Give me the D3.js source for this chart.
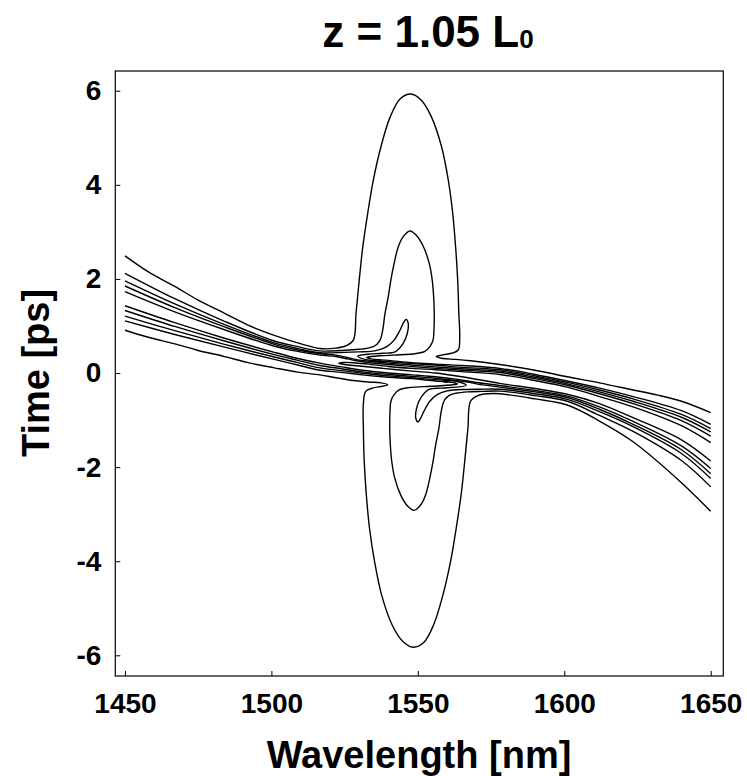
<!DOCTYPE html>
<html>
<head>
<meta charset="utf-8">
<script src="https://cdn.jsdelivr.net/npm/d3@7"></script>
<style>
  body { margin: 0; background: #fff; }
  svg text { font-family: "Liberation Sans", Arial, sans-serif; font-weight: bold; fill: #000; }
</style>
</head>
<body>
<svg id="chart" width="747" height="776"></svg>
<script>
// tick values
const xTicks = [1450, 1500, 1550, 1600, 1650]
const yTicks = [-6, -4, -2, 0, 2, 4, 6]

// contour lines, [wavelength nm, time ps]
// upper side of the band (outermost first)
const contourU1 = [
  [1450, 2.49], [1458, 2.15], [1467, 1.84], [1475, 1.55], [1484, 1.27], [1492, 1.02], [1501, 0.80],
  [1509, 0.64], [1516.6, 0.52], [1522, 0.53], [1525.5, 0.58], [1528.0, 0.70], [1528.9, 1.27],
  [1530.0, 1.98], [1531.2, 2.68], [1532.9, 3.40], [1534.8, 4.10], [1537.4, 4.81], [1540.6, 5.45],
  [1544.0, 5.83], [1547.6, 5.93], [1551.2, 5.80], [1554.6, 5.45], [1558.1, 4.81], [1560.4, 4.10],
  [1561.9, 3.40], [1562.9, 2.68], [1563.6, 1.98], [1564.0, 1.27], [1564.3, 0.75], [1563.8, 0.49],
  [1561.5, 0.42], [1558, 0.38], [1556.3, 0.35], [1558.5, 0.31], [1563, 0.29], [1568, 0.26],
  [1578, 0.18], [1590, 0.06], [1601, -0.08], [1612, -0.21], [1623.5, -0.36], [1632, -0.47],
  [1640, -0.60], [1650, -0.84]
]
const contourU2 = [
  [1450, 2.12], [1467, 1.58], [1484, 1.10], [1501, 0.68], [1509, 0.56], [1516.6, 0.47], [1524, 0.48],
  [1529, 0.50], [1533, 0.53], [1535.4, 0.58], [1537.1, 0.70], [1538.0, 0.91], [1538.8, 1.27],
  [1539.9, 1.62], [1540.8, 1.98], [1541.9, 2.33], [1543.3, 2.68], [1545.0, 2.90], [1547.3, 3.02],
  [1549.6, 2.92], [1551.8, 2.70], [1553.9, 2.33], [1554.9, 1.98], [1555.4, 1.62], [1555.6, 1.27],
  [1555.5, 0.91], [1555.2, 0.70], [1554.1, 0.56], [1552.4, 0.46], [1549, 0.41], [1544, 0.39],
  [1538, 0.37], [1534, 0.35], [1532.5, 0.33], [1534, 0.30], [1540, 0.27], [1548, 0.22], [1556, 0.19],
  [1565, 0.16], [1578, 0.10], [1590, -0.03], [1601, -0.17], [1612, -0.32], [1623.5, -0.50],
  [1640, -0.80], [1650, -1.09]
]
const contourU3 = [
  [1450, 1.96], [1467, 1.47], [1484, 1.03], [1501, 0.64], [1509, 0.52], [1516.6, 0.43], [1525, 0.44],
  [1530, 0.45], [1534, 0.46], [1536, 0.48], [1539.4, 0.56], [1541.9, 0.70], [1543.9, 0.91],
  [1545.2, 1.08], [1546.0, 1.14], [1546.7, 1.06], [1546.4, 0.84], [1545.0, 0.63], [1542.2, 0.45],
  [1538, 0.42], [1533, 0.40], [1529.5, 0.36], [1532, 0.29], [1540, 0.24], [1548, 0.20], [1556, 0.17],
  [1565, 0.12], [1578, 0.07], [1590, -0.06], [1601, -0.20], [1612, -0.36], [1623.5, -0.55],
  [1640, -0.88], [1650, -1.18]
]
const contourU4 = [
  [1450, 1.85], [1467, 1.39], [1484, 0.98], [1501, 0.61], [1509, 0.49], [1516.6, 0.41], [1522, 0.38],
  [1526, 0.33], [1529, 0.285], [1533, 0.255], [1540, 0.21], [1548, 0.17], [1556, 0.13], [1565, 0.09],
  [1578, 0.04], [1590, -0.09], [1601, -0.23], [1612, -0.40], [1623.5, -0.60], [1640, -0.94],
  [1650, -1.25]
]
const contourU5 = [
  [1450, 1.73], [1467, 1.30], [1484, 0.92], [1501, 0.57], [1509, 0.46], [1516.6, 0.38], [1522, 0.35],
  [1526, 0.30], [1529, 0.26], [1533, 0.225], [1540, 0.18], [1548, 0.14], [1556, 0.10], [1565, 0.06],
  [1578, 0.01], [1590, -0.12], [1601, -0.26], [1612, -0.44], [1623.5, -0.65], [1640, -1.01],
  [1650, -1.34]
]
// innermost level: enters and leaves on the right edge
const contourRidge = [
  [1650, -1.48], [1640, -1.12], [1623.5, -0.72], [1612, -0.50], [1601, -0.30], [1590, -0.16],
  [1578, -0.03], [1565, 0.03], [1556, 0.07], [1548, 0.10], [1540, 0.14], [1533, 0.19], [1528, 0.22],
  [1524.5, 0.225], [1523, 0.21], [1525, 0.18], [1530, 0.15], [1538, 0.10], [1548, 0.04], [1556, 0.0],
  [1565, -0.08], [1578, -0.22], [1590, -0.33], [1601, -0.45], [1612, -0.65], [1623.5, -0.95],
  [1640, -1.42], [1650, -1.87]
]
// lower side of the band
const contourL5 = [
  [1450, 1.43], [1467, 1.07], [1484, 0.74], [1501, 0.44], [1509, 0.31], [1516.6, 0.21], [1524, 0.13],
  [1531, 0.06], [1540, 0.00], [1548, -0.04], [1556, -0.08], [1563, -0.13], [1567, -0.17],
  [1570, -0.20], [1578, -0.265], [1590, -0.37], [1601, -0.49], [1612, -0.72], [1623.5, -1.03],
  [1640, -1.55], [1650, -2.03]
]
const contourL4 = [
  [1450, 1.33], [1467, 0.99], [1484, 0.68], [1501, 0.39], [1509, 0.27], [1516.6, 0.16], [1524, 0.09],
  [1531, 0.025], [1540, -0.03], [1548, -0.07], [1556, -0.11], [1563, -0.16], [1567, -0.19],
  [1570, -0.23], [1578, -0.30], [1590, -0.40], [1601, -0.52], [1612, -0.77], [1623.5, -1.09],
  [1640, -1.63], [1650, -2.14]
]
const contourL3 = [
  [1450, 1.21], [1467, 0.90], [1484, 0.61], [1501, 0.34], [1509, 0.22], [1516.6, 0.11], [1524, 0.05],
  [1531, -0.005], [1540, -0.06], [1548, -0.10], [1556, -0.14], [1564, -0.19], [1566.5, -0.26],
  [1563, -0.30], [1558, -0.32], [1553.8, -0.35], [1551.0, -0.53], [1549.6, -0.74], [1549.3, -0.96],
  [1550.0, -1.04], [1550.8, -0.98], [1552.1, -0.81], [1554.1, -0.60], [1556.6, -0.46], [1560, -0.38],
  [1562, -0.36], [1566, -0.35], [1571, -0.345], [1578, -0.345], [1590, -0.44], [1601, -0.56],
  [1612, -0.82], [1623.5, -1.14], [1640, -1.71], [1650, -2.24]
]
const contourL2 = [
  [1450, 1.11], [1467, 0.82], [1484, 0.55], [1501, 0.29], [1509, 0.17], [1516.6, 0.06], [1524, 0.015],
  [1531, -0.04], [1540, -0.09], [1548, -0.12], [1556, -0.17], [1562, -0.20], [1563.5, -0.23],
  [1562, -0.25], [1558, -0.27], [1552, -0.29], [1547, -0.31], [1543.6, -0.36], [1541.9, -0.46],
  [1540.8, -0.60], [1540.5, -0.81], [1540.4, -1.17], [1540.6, -1.52], [1541.1, -1.88], [1542.1, -2.23],
  [1544.2, -2.60], [1546.4, -2.82], [1548.7, -2.92], [1551.0, -2.80], [1552.7, -2.58], [1554.1, -2.23],
  [1555.2, -1.88], [1556.1, -1.52], [1557.2, -1.17], [1558.0, -0.81], [1558.9, -0.60], [1560.6, -0.48],
  [1563, -0.43], [1567, -0.40], [1572, -0.39], [1578, -0.385], [1590, -0.48], [1601, -0.60],
  [1612, -0.90], [1623.5, -1.24], [1640, -1.86], [1650, -2.42]
]
const contourL1 = [
  [1450, 0.91], [1458, 0.76], [1467, 0.62], [1475, 0.48], [1484, 0.35], [1492, 0.22], [1501, 0.11],
  [1509, 0.02], [1516.6, -0.04], [1522, -0.10], [1528, -0.16], [1533, -0.19], [1537.5, -0.21],
  [1539.7, -0.25], [1538, -0.28], [1534.5, -0.32], [1532.2, -0.39], [1531.4, -0.65], [1531.4, -1.17],
  [1531.7, -1.88], [1532.4, -2.58], [1533.5, -3.30], [1535.2, -4.00], [1537.6, -4.71], [1541.2, -5.35],
  [1544.8, -5.70], [1548.4, -5.83], [1552.0, -5.73], [1555.4, -5.35], [1558.6, -4.71], [1561.2, -4.00],
  [1563.1, -3.30], [1564.8, -2.58], [1566.0, -1.88], [1567.1, -1.17], [1568.0, -0.60], [1570.5, -0.48],
  [1574, -0.44], [1578, -0.44], [1590, -0.55], [1601, -0.68], [1612, -1.02], [1623.5, -1.46],
  [1640, -2.33], [1650, -2.94]
]
// two tiny closed contours near the centre
const dotUpper = [[1535.5, 0.265], [1536.4, 0.29], [1537.3, 0.265], [1536.4, 0.245]]
const dotLower = [[1558.7, -0.175], [1559.6, -0.15], [1560.5, -0.175], [1559.6, -0.195]]

const openContours = [contourU1, contourU2, contourU3, contourU4, contourU5, contourRidge,
  contourL5, contourL4, contourL3, contourL2, contourL1]
const closedContours = [dotUpper, dotLower]

let width = 747
let height = 776
let plot = { left: 115.3, right: 723.3, top: 71, bottom: 676 }

let svg = d3.select('#chart')

let xScale = d3.scaleLinear()
  .domain([1446.7, 1654.3])
  .range([plot.left, plot.right])
let yScale = d3.scaleLinear()
  .domain([-6.44, 6.42])
  .range([plot.bottom, plot.top])

svg.append('defs').append('clipPath')
  .attr('id', 'plot-clip')
  .append('rect')
  .attr('x', plot.left)
  .attr('y', plot.top)
  .attr('width', plot.right - plot.left)
  .attr('height', plot.bottom - plot.top)

let line = d3.line()
  .x(d => xScale(d[0]))
  .y(d => yScale(d[1]))
  .curve(d3.curveCatmullRom.alpha(0.5))

let loop = d3.line()
  .x(d => xScale(d[0]))
  .y(d => yScale(d[1]))
  .curve(d3.curveCatmullRomClosed.alpha(0.5))

let lines = svg.append('g').attr('clip-path', 'url(#plot-clip)')

lines.selectAll('path.open')
  .data(openContours)
  .enter()
  .append('path')
  .attr('class', 'open')
  .attr('d', line)
  .attr('fill', 'none')
  .attr('stroke', '#000')
  .attr('stroke-width', 1.4)

lines.selectAll('path.closed')
  .data(closedContours)
  .enter()
  .append('path')
  .attr('class', 'closed')
  .attr('d', loop)
  .attr('fill', 'none')
  .attr('stroke', '#000')
  .attr('stroke-width', 1.4)

// frame
svg.append('rect')
  .attr('x', plot.left)
  .attr('y', plot.top)
  .attr('width', plot.right - plot.left)
  .attr('height', plot.bottom - plot.top)
  .attr('fill', 'none')
  .attr('stroke', '#000')
  .attr('stroke-width', 1.2)

let yAxis = d3.axisLeft(yScale)
  .tickValues(yTicks)
  .tickSizeInner(-5)
  .tickSizeOuter(0)
  .tickPadding(14)
  .tickFormat(d => String(d))

let xAxis = d3.axisBottom(xScale)
  .tickValues(xTicks)
  .tickSizeInner(-5)
  .tickSizeOuter(0)
  .tickPadding(17)
  .tickFormat(d => String(d))

svg.append('g')
  .attr('class', 'y axis')
  .attr('transform', `translate(${plot.left},0)`)
  .call(yAxis)
  .call(g => g.select('.domain').remove())
  .attr('font-family', null)
  .attr('font-size', null)
  .selectAll('text')
  .style('font-size', '28px')

svg.append('g')
  .attr('class', 'x axis')
  .attr('transform', `translate(0,${plot.bottom})`)
  .call(xAxis)
  .call(g => g.select('.domain').remove())
  .attr('font-family', null)
  .attr('font-size', null)
  .selectAll('text')
  .style('font-size', '28px')

svg.selectAll('.tick line').attr('stroke', '#000').attr('stroke-width', 1)

// title
let title = svg.append('text')
  .attr('x', 428)
  .attr('y', 47)
  .attr('text-anchor', 'middle')
  .style('font-size', '44px')
title.append('tspan').text('z = 1.05 L')
title.append('tspan').text('0').style('font-size', '26px').attr('dy', 1)

svg.append('text')
  .attr('x', 419)
  .attr('y', 768)
  .attr('text-anchor', 'middle')
  .style('font-size', '38px')
  .text('Wavelength [nm]')

svg.append('text')
  .attr('transform', `translate(49,373) rotate(-90)`)
  .attr('text-anchor', 'middle')
  .style('font-size', '38px')
  .text('Time [ps]')
</script>
</body>
</html>
